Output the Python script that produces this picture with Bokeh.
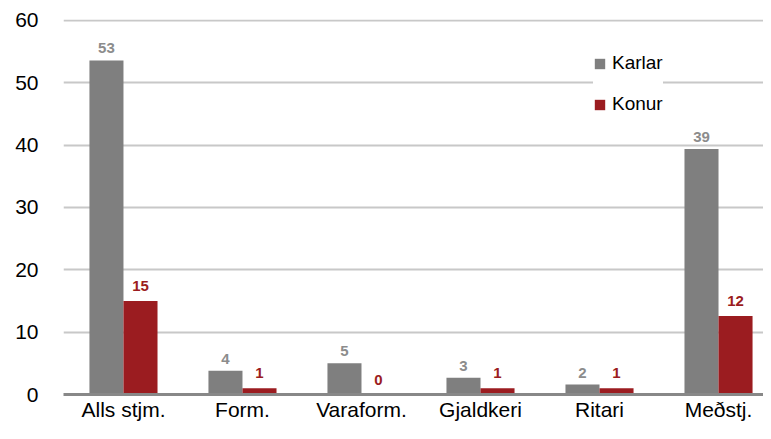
from bokeh.plotting import figure
from bokeh.models import ColumnDataSource, Range1d, Legend, LegendItem, FixedTicker
from bokeh.transform import dodge
from bokeh.core.properties import value
from bokeh.embed import file_html
from bokeh.resources import INLINE

categories = ["Alls stjm.", "Form.", "Varaform.", "Gjaldkeri", "Ritari", "Meðstj."]
karlar = [53.6, 3.8, 5.0, 2.7, 1.6, 39.4]
konur = [15.0, 1.0, 0.0, 1.0, 1.0, 12.6]
karlar_labels = ["53", "4", "5", "3", "2", "39"]
konur_labels = ["15", "1", "0", "1", "1", "12"]
y_ticks = [0, 10, 20, 30, 40, 50, 60]

GRAY = "#7f7f7f"
RED = "#9b1c20"
FONT = "Liberation Sans"

idx = list(range(len(categories)))
src = ColumnDataSource(dict(x=idx, karlar=karlar, konur=konur,
                            kl=karlar_labels, rl=konur_labels))

p = figure(width=763, height=423, output_backend="svg", toolbar_location=None,
           x_range=Range1d(-0.504, 5.378), y_range=Range1d(0, 60.16),
           min_border_left=63, min_border_right=0, min_border_top=19,
           min_border_bottom=28)
p.outline_line_color = None
p.background_fill_color = "white"
p.border_fill_color = "white"

bw = 0.286
r1 = p.vbar(x=dodge("x", -bw / 2), top="karlar", width=bw, source=src,
            fill_color=GRAY, line_color=None)
r2 = p.vbar(x=dodge("x", bw / 2), top="konur", width=bw, source=src,
            fill_color=RED, line_color=None)

p.text(x=dodge("x", -bw / 2), y="karlar", text="kl", source=src,
       text_align="center", text_baseline="middle", y_offset=-12,
       text_font=value(FONT), text_font_size="15px", text_font_style="bold",
       text_color="#8c8c8c")
p.text(x=dodge("x", bw / 2), y="konur", text="rl", source=src,
       text_align="center", text_baseline="middle", y_offset=-15,
       text_font=value(FONT), text_font_size="15px", text_font_style="bold",
       text_color=RED)

# axes
p.yaxis.ticker = FixedTicker(ticks=y_ticks)
p.yaxis.axis_line_color = None
p.yaxis.major_tick_line_color = None
p.yaxis.minor_tick_line_color = None
p.yaxis.major_label_text_font = FONT
p.yaxis.major_label_text_font_size = "21px"
p.yaxis.major_label_text_color = "black"
p.yaxis.major_label_standoff = 19

p.xaxis.ticker = FixedTicker(ticks=idx)
p.xaxis.major_label_overrides = {i: c for i, c in zip(idx, categories)}
p.xaxis.axis_line_color = "#888888"
p.xaxis.axis_line_width = 3
p.xaxis.major_tick_line_color = None
p.xaxis.minor_tick_line_color = None
p.xaxis.major_label_text_font = FONT
p.xaxis.major_label_text_font_size = "21px"
p.xaxis.major_label_text_color = "black"
p.xaxis.major_label_standoff = -3

p.xgrid.grid_line_color = None
p.ygrid.grid_line_color = "#c8c8c8"
p.ygrid.grid_line_width = 2

legend = Legend(items=[LegendItem(label="Karlar", renderers=[r1]),
                       LegendItem(label="Konur", renderers=[r2])],
                location=(530, 279))
legend.glyph_width = 13
legend.glyph_height = 13
legend.label_height = 20
legend.spacing = 19
legend.padding = 28
legend.label_standoff = 6
legend.label_text_font = FONT
legend.label_text_font_size = "19px"
legend.label_text_color = "black"
legend.border_line_color = None
legend.background_fill_color = "white"
legend.background_fill_alpha = 1.0
p.add_layout(legend, "center")

open("out.html", "w").write(file_html(p, INLINE))
